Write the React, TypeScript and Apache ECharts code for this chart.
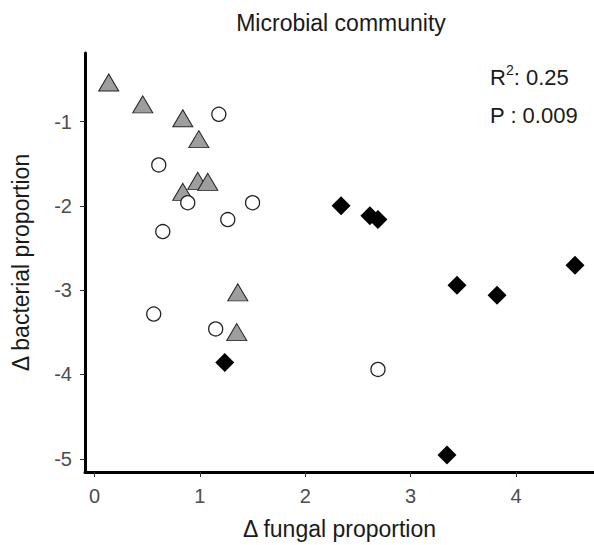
import React, { useEffect, useRef } from "react";
import * as echarts from "echarts";

const FONT = '"Liberation Sans", Arial, Helvetica, sans-serif';

// Group 1: grey triangles
const triX = [0.135, 0.458, 0.838, 0.99, 0.98, 1.075, 0.838, 1.36, 1.35];
const triY = [-0.537, -0.796, -0.961, -1.209, -1.704, -1.716, -1.834, -3.026, -3.498];
// Group 2: open circles
const circX = [1.18, 0.61, 0.885, 1.5, 1.265, 0.648, 0.562, 1.15, 2.69];
const circY = [-0.914, -1.515, -1.963, -1.963, -2.163, -2.305, -3.283, -3.46, -3.94];
// Group 3: black diamonds
const diaX = [1.236, 2.34, 2.613, 2.69, 3.44, 3.82, 4.56, 3.345];
const diaY = [-3.858, -1.998, -2.116, -2.163, -2.941, -3.059, -2.706, -4.956];

const xTicks = [0, 1, 2, 3, 4];
const yTicks = [-5, -4, -3, -2, -1];

const titleText = "Microbial community";
const xName = "Δ fungal proportion";
const yName = "Δ bacterial proportion";
const r2Value = "0.25";
const pValue = "0.009";

const zip = (xs: number[], ys: number[]) => xs.map((x, i) => [x, ys[i]]);

export default function App() {
  const ref = useRef<HTMLDivElement>(null);
  useEffect(() => {
    if (!ref.current) return;
    const chart = echarts.init(ref.current, null, { renderer: "svg" });
    const axisCommon = {
      type: "value" as const,
      splitLine: { show: false },
      axisLine: { show: true, onZero: false, lineStyle: { color: "#000", width: 3 } },
      axisTick: { show: true, length: 5, lineStyle: { color: "#333", width: 1 } },
      nameLocation: "middle" as const,
      nameTextStyle: { fontFamily: FONT, fontSize: 23, color: "#1a1a1a" },
    };
    chart.setOption({
      animation: false,
      backgroundColor: "#fff",
      grid: { left: 85, right: 0, top: 53, bottom: 70, containLabel: false },
      xAxis: {
        ...axisCommon,
        min: -0.09,
        max: 4.74,
        name: xName,
        nameGap: 45,
        axisTick: { ...axisCommon.axisTick, customValues: xTicks },
        axisLabel: {
          customValues: xTicks,
          margin: 14,
          fontFamily: FONT,
          fontSize: 20,
          color: "#4d4d4d",
        },
      },
      yAxis: {
        ...axisCommon,
        min: -5.157,
        max: -0.187,
        name: yName,
        nameGap: 53,
        axisTick: { ...axisCommon.axisTick, customValues: yTicks },
        axisLabel: {
          customValues: yTicks,
          margin: 13,
          fontFamily: FONT,
          fontSize: 20,
          color: "#4d4d4d",
        },
      },
      graphic: [
        {
          type: "text",
          x: 341,
          y: 11,
          style: {
            text: titleText,
            fontFamily: FONT,
            fontSize: 23,
            fill: "#1a1a1a",
            align: "center",
          },
        },
        {
          type: "text",
          x: 490,
          y: 63,
          style: {
            text: "{r|R}{s|2}{v|: " + r2Value + "}",
            fontFamily: FONT,
            rich: {
              r: { fontFamily: FONT, fontSize: 22, lineHeight: 28, fill: "#1a1a1a" },
              s: { fontFamily: FONT, fontSize: 14, lineHeight: 15, verticalAlign: "top", fill: "#1a1a1a" },
              v: { fontFamily: FONT, fontSize: 22, lineHeight: 28, fill: "#1a1a1a" },
            },
          },
        },
        {
          type: "text",
          x: 490,
          y: 104,
          style: {
            text: "P : " + pValue,
            fontFamily: FONT,
            fontSize: 22,
            fill: "#1a1a1a",
          },
        },
      ],
      series: [
        {
          type: "scatter",
          name: "triangles",
          data: zip(triX, triY),
          symbol: "triangle",
          symbolSize: [20, 17],
          itemStyle: { color: "#9e9e9e", borderColor: "#222", borderWidth: 1, opacity: 1 },
          z: 2,
        },
        {
          type: "scatter",
          name: "circles",
          data: zip(circX, circY),
          symbol: "circle",
          symbolSize: 14,
          itemStyle: { color: "#fff", borderColor: "#222", borderWidth: 1.3, opacity: 1 },
          z: 3,
        },
        {
          type: "scatter",
          name: "diamonds",
          data: zip(diaX, diaY),
          symbol: "diamond",
          symbolSize: 19,
          itemStyle: { color: "#000", borderColor: "#000", borderWidth: 0, opacity: 1 },
          z: 4,
        },
      ],
    });
    return () => chart.dispose();
  }, []);
  return (
    <div
      ref={ref}
      style={{ position: "fixed", left: 0, top: 0, width: 594, height: 545 }}
    />
  );
}
